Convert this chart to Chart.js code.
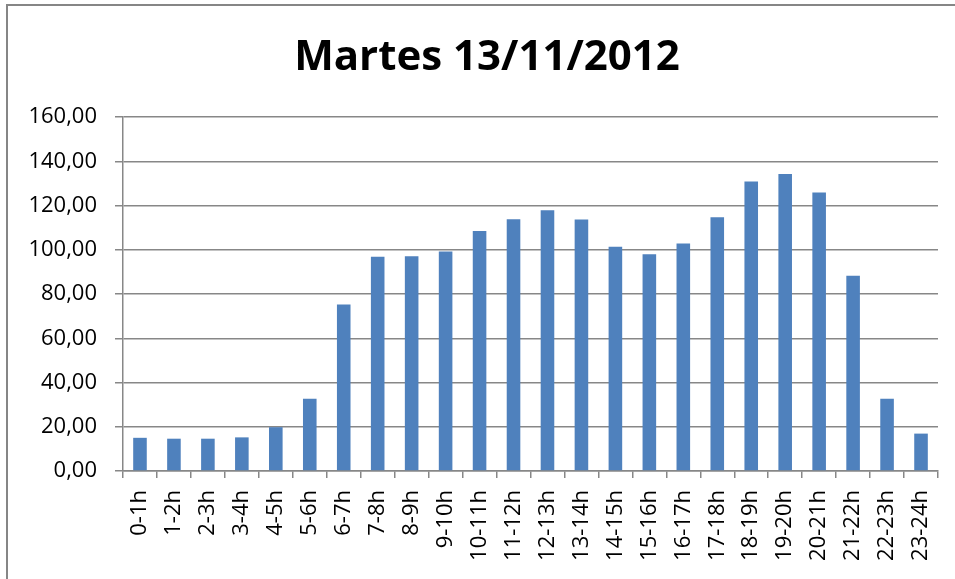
<!DOCTYPE html>
<html lang="es">
<head>
    <meta charset="UTF-8">
    <title>Martes 13/11/2012</title>
    <script src="https://cdn.jsdelivr.net/npm/chart.js"></script>
    <style>
        html, body { margin: 0; padding: 0; background: #fff; }
        #wrap { width: 955px; height: 579px; }
    </style>
</head>
<body>
    <div id="wrap"><canvas id="grafico" width="955" height="579"></canvas></div>

    <script>
        const tituloGrafico = 'Martes 13/11/2012';
        const horas = ['0-1h', '1-2h', '2-3h', '3-4h', '4-5h', '5-6h', '6-7h', '7-8h', '8-9h', '9-10h',
            '10-11h', '11-12h', '12-13h', '13-14h', '14-15h', '15-16h', '16-17h', '17-18h',
            '18-19h', '19-20h', '20-21h', '21-22h', '22-23h', '23-24h'];
        const valores = [15.0, 14.6, 14.6, 15.2, 19.8, 32.6, 75.2, 96.8, 97.1, 99.2,
            108.5, 113.8, 117.9, 113.7, 101.4, 98.0, 102.8, 114.7,
            130.9, 134.2, 125.9, 88.3, 32.6, 16.9];
        const ejeY = { min: 0, max: 160, paso: 20 };

        // marco gris y titulo centrado sobre el marco (como en Excel)
        const marco = {
            id: 'marco',
            beforeDraw(chart) {
                const c = chart.ctx;
                c.save();
                c.fillStyle = '#fff';
                c.fillRect(0, 0, chart.width, chart.height);
                c.strokeStyle = '#868686';
                c.lineWidth = 2;
                c.strokeRect(7, 5, chart.width + 20, chart.height + 20);
                c.fillStyle = '#000';
                c.font = 'bold 42px "Open Sans"';
                c.textAlign = 'center';
                c.textBaseline = 'alphabetic';
                c.fillText(tituloGrafico, 487, 70);
                c.restore();
            }
        };

        const ctx = document.getElementById('grafico').getContext('2d');
        new Chart(ctx, {
            type: 'bar',
            data: {
                labels: horas,
                datasets: [{
                    data: valores,
                    backgroundColor: '#4F81BD',
                    barPercentage: 0.4,
                    categoryPercentage: 1
                }]
            },
            plugins: [marco],
            options: {
                responsive: false,
                animation: false,
                layout: { padding: { left: 0, right: 17, top: 117, bottom: 0 } },
                plugins: {
                    legend: { display: false },
                    tooltip: { enabled: false },
                    title: { display: false }
                },
                scales: {
                    x: {
                        offset: true,
                        grid: {
                            offset: true,
                            drawOnChartArea: false,
                            drawTicks: true,
                            tickLength: 7,
                            color: '#878787',
                            lineWidth: 1.5
                        },
                        border: { color: '#878787', width: 1.5 },
                        ticks: {
                            autoSkip: false,
                            minRotation: 90,
                            maxRotation: 90,
                            padding: 12,
                            color: '#000',
                            font: { family: 'Open Sans', size: 22 }
                        },
                        afterFit(scale) {
                            scale.height = 108;
                            scale.paddingLeft = 0;
                            scale.paddingRight = 0;
                        }
                    },
                    y: {
                        min: ejeY.min,
                        max: ejeY.max,
                        grid: {
                            color: '#878787',
                            lineWidth: 1.5,
                            tickLength: 8
                        },
                        border: { color: '#878787', width: 1.5 },
                        ticks: {
                            stepSize: ejeY.paso,
                            padding: 18,
                            color: '#000',
                            font: { family: 'Open Sans', size: 22 },
                            callback: v => v.toFixed(2).replace('.', ',')
                        },
                        afterFit(scale) {
                            scale.width = 123;
                            scale.paddingTop = 0;
                            scale.paddingBottom = 0;
                        }
                    }
                }
            }
        });
    </script>
</body>
</html>
